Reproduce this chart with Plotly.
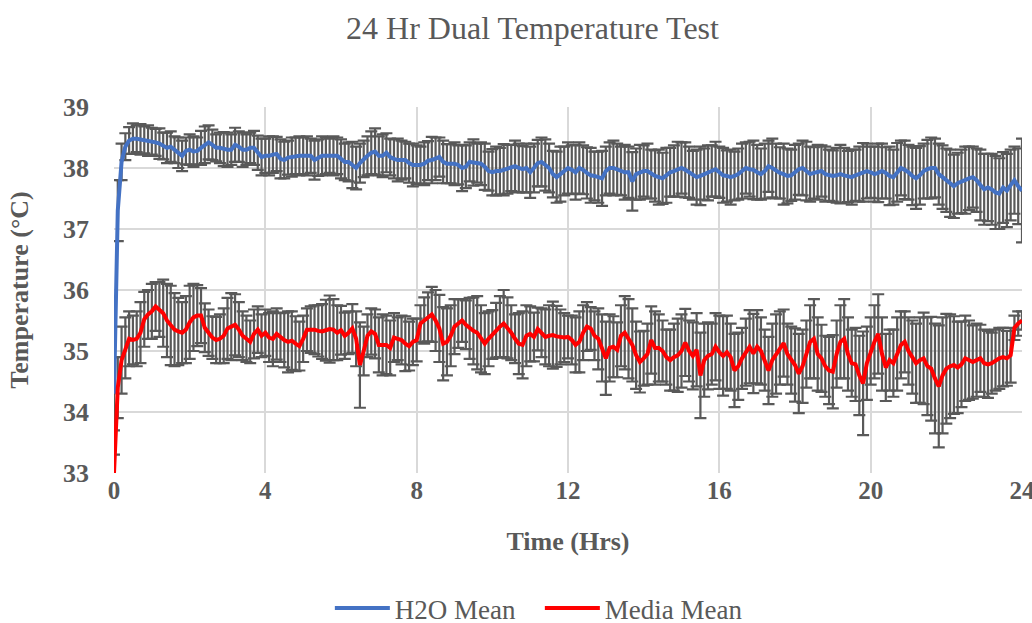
import plotly.graph_objects as go

# time grid (hours), sampled every 0.1 h
time_hrs = [round(i * 0.1, 1) for i in range(241)]

h2o_mean = [
    34.3, 37.3, 38.1, 38.35, 38.45, 38.48, 38.48, 38.47, 38.46, 38.45,
    38.44, 38.42, 38.4, 38.36, 38.33, 38.35, 38.3, 38.25, 38.2, 38.28,
    38.3, 38.27, 38.28, 38.33, 38.38, 38.42, 38.38, 38.33, 38.33, 38.31,
    38.3, 38.3, 38.38, 38.35, 38.3, 38.3, 38.33, 38.33, 38.25, 38.18,
    38.2, 38.2, 38.22, 38.23, 38.15, 38.13, 38.17, 38.18, 38.2, 38.2,
    38.2, 38.2, 38.2, 38.13, 38.17, 38.2, 38.2, 38.2, 38.2, 38.2,
    38.15, 38.1, 38.1, 38.05, 38.0, 38.08, 38.15, 38.2, 38.25, 38.27,
    38.2, 38.2, 38.25, 38.18, 38.15, 38.13, 38.13, 38.13, 38.08, 38.05,
    38.05, 38.05, 38.07, 38.12, 38.13, 38.15, 38.18, 38.1, 38.07, 38.07,
    38.07, 38.05, 38.0, 38.02, 38.1, 38.09, 38.08, 38.07, 38.02, 37.95,
    37.93, 37.95, 37.95, 37.97, 37.98, 38.0, 38.03, 38.0, 37.98, 38.0,
    37.93, 38.0, 38.08, 38.1, 38.05, 38.0, 37.9, 37.85, 37.9, 37.95,
    38.0, 37.97, 37.93, 38.0, 37.97, 37.92, 37.88, 37.87, 37.85, 37.83,
    37.95, 38.0, 38.0, 37.98, 37.95, 37.93, 37.93, 37.78, 37.9, 37.93,
    37.95, 37.95, 37.9, 37.87, 37.85, 37.83, 37.88, 37.93, 37.95, 37.98,
    38.0, 37.97, 37.93, 37.88, 37.85, 37.87, 37.9, 37.92, 37.95, 37.98,
    37.93, 37.88, 37.87, 37.85, 37.87, 37.9, 37.95, 38.0, 37.98, 37.97,
    37.93, 37.9, 37.95, 38.03, 38.0, 37.95, 37.92, 37.9, 37.87, 37.88,
    37.93, 37.98, 38.0, 37.95, 37.9, 37.92, 37.93, 37.95, 37.9, 37.88,
    37.87, 37.88, 37.9, 37.88, 37.86, 37.85, 37.88, 37.9, 37.93, 37.95,
    37.93, 37.9, 37.92, 37.95, 37.92, 37.87, 37.85, 37.93, 38.0, 37.97,
    37.93, 37.87, 37.83, 37.88, 37.95, 37.98, 38.0, 38.0, 37.9, 37.85,
    37.8, 37.75, 37.7, 37.75, 37.78, 37.8, 37.83, 37.85, 37.8, 37.72,
    37.65, 37.68, 37.65, 37.6, 37.58, 37.68, 37.63, 37.72, 37.8, 37.7,
    37.63,
]

h2o_err = [
    0.6, 0.5, 0.3, 0.22, 0.22, 0.25, 0.22, 0.25, 0.22, 0.25,
    0.22, 0.22, 0.25, 0.22, 0.25, 0.25, 0.22, 0.25, 0.25, 0.22,
    0.25, 0.25, 0.22, 0.28, 0.3, 0.28, 0.25, 0.22, 0.25, 0.28,
    0.28, 0.25, 0.28, 0.25, 0.28, 0.25, 0.25, 0.28, 0.28, 0.3,
    0.28, 0.32, 0.3, 0.28, 0.32, 0.3, 0.28, 0.32, 0.3, 0.32,
    0.3, 0.32, 0.28, 0.32, 0.3, 0.32, 0.3, 0.28, 0.32, 0.3,
    0.32, 0.3, 0.32, 0.38, 0.35, 0.32, 0.3, 0.32, 0.35, 0.38,
    0.32, 0.35, 0.32, 0.3, 0.32, 0.35, 0.32, 0.3, 0.32, 0.35,
    0.32, 0.3, 0.35, 0.32, 0.38, 0.35, 0.32, 0.35, 0.32, 0.32,
    0.35, 0.32, 0.38, 0.35, 0.32, 0.38, 0.32, 0.35, 0.38, 0.32,
    0.38, 0.4, 0.38, 0.42, 0.4, 0.38, 0.42, 0.4, 0.38, 0.4,
    0.42, 0.4, 0.38, 0.4, 0.42, 0.4, 0.38, 0.42, 0.45, 0.4,
    0.42, 0.4, 0.45, 0.42, 0.4, 0.42, 0.45, 0.4, 0.42, 0.45,
    0.4, 0.42, 0.45, 0.42, 0.4, 0.45, 0.42, 0.48, 0.42, 0.45,
    0.42, 0.45, 0.4, 0.42, 0.45, 0.42, 0.45, 0.4, 0.42, 0.45,
    0.42, 0.45, 0.42, 0.4, 0.45, 0.48, 0.42, 0.45, 0.42, 0.45,
    0.42, 0.45, 0.42, 0.45, 0.4, 0.42, 0.45, 0.42, 0.45, 0.48,
    0.45, 0.42, 0.45, 0.42, 0.48, 0.45, 0.42, 0.5, 0.45, 0.42,
    0.45, 0.42, 0.45, 0.48, 0.45, 0.42, 0.45, 0.42, 0.45, 0.42,
    0.42, 0.45, 0.48, 0.45, 0.42, 0.45, 0.42, 0.45, 0.48, 0.45,
    0.42, 0.45, 0.48, 0.45, 0.42, 0.48, 0.45, 0.48, 0.45, 0.48,
    0.45, 0.48, 0.5, 0.48, 0.45, 0.48, 0.5, 0.48, 0.5, 0.52,
    0.52, 0.55, 0.52, 0.5, 0.52, 0.55, 0.52, 0.5, 0.52, 0.58,
    0.58, 0.55, 0.58, 0.6, 0.58, 0.58, 0.6, 0.58, 0.55, 0.62,
    0.85,
]

media_mean = [
    33.0, 34.4, 34.85, 35.05, 35.2, 35.18, 35.2, 35.3, 35.52, 35.6,
    35.65, 35.73, 35.68, 35.62, 35.5, 35.42, 35.35, 35.32, 35.3, 35.35,
    35.47, 35.55, 35.58, 35.58, 35.38, 35.3, 35.22, 35.18, 35.2, 35.25,
    35.37, 35.4, 35.43, 35.35, 35.25, 35.2, 35.15, 35.28, 35.35, 35.25,
    35.3, 35.22, 35.2, 35.28, 35.22, 35.18, 35.15, 35.17, 35.12, 35.08,
    35.2, 35.35, 35.35, 35.35, 35.33, 35.32, 35.34, 35.36, 35.35, 35.3,
    35.34, 35.25, 35.3, 35.37, 35.2, 34.77, 35.0, 35.25, 35.32, 35.28,
    35.1, 35.1, 35.1, 35.05, 35.22, 35.2, 35.18, 35.12, 35.08, 35.15,
    35.18, 35.45, 35.5, 35.56, 35.6, 35.5, 35.37, 35.12, 35.15, 35.25,
    35.4, 35.45, 35.5, 35.43, 35.37, 35.33, 35.3, 35.2, 35.12, 35.2,
    35.27, 35.34, 35.4, 35.45, 35.38, 35.3, 35.2, 35.12, 35.1, 35.25,
    35.28, 35.23, 35.36, 35.3, 35.23, 35.25, 35.26, 35.24, 35.23, 35.22,
    35.23, 35.18, 35.1, 35.15, 35.3, 35.4, 35.37, 35.25, 35.2, 35.05,
    34.88, 35.05, 35.07, 35.02, 35.25, 35.3, 35.2, 35.1, 34.93, 34.82,
    34.88, 34.95, 35.18, 35.05, 35.05, 35.0, 34.9, 34.85, 34.9, 34.93,
    35.0, 35.14, 35.0, 34.92, 35.02, 34.6, 34.85, 34.92, 34.95, 35.07,
    34.98, 34.92, 34.98, 34.9, 34.68, 34.75, 34.88, 34.98, 35.07, 34.96,
    35.07, 35.0, 34.85, 34.68, 34.85, 34.95, 35.05, 35.13, 34.95, 34.85,
    34.77, 34.63, 34.75, 34.95, 35.15, 35.2, 34.95, 34.88, 34.75, 34.68,
    34.66, 34.95, 35.15, 35.2, 34.95, 34.8, 34.78, 34.6, 34.47, 34.8,
    35.0, 35.15, 35.28, 34.95, 34.73, 34.85, 34.8, 34.95, 35.1, 35.15,
    35.0, 34.9, 34.8, 34.85, 34.88, 34.75, 34.71, 34.55, 34.42, 34.6,
    34.71, 34.75, 34.77, 34.73, 34.78, 34.88, 34.85, 34.82, 34.85, 34.88,
    34.8, 34.78, 34.8, 34.85, 34.88, 34.9, 34.88, 34.93, 35.38, 35.45,
    35.5,
]

media_err = [
    0.3, 0.5, 0.55, 0.5, 0.45, 0.4, 0.45, 0.5, 0.45, 0.4,
    0.45, 0.4, 0.45, 0.55, 0.6, 0.65, 0.6, 0.55, 0.5, 0.55,
    0.6, 0.55, 0.5, 0.45, 0.4, 0.38, 0.35, 0.38, 0.4, 0.45,
    0.5, 0.55, 0.5, 0.45, 0.4, 0.38, 0.35, 0.4, 0.38, 0.35,
    0.38, 0.4, 0.45, 0.42, 0.4, 0.45, 0.5, 0.48, 0.45, 0.4,
    0.38, 0.35, 0.38, 0.4, 0.42, 0.45, 0.5, 0.55, 0.5, 0.45,
    0.4, 0.38, 0.35, 0.4, 0.45, 0.7, 0.4, 0.35, 0.38, 0.4,
    0.45, 0.5, 0.48, 0.45, 0.4, 0.35, 0.4, 0.45, 0.4, 0.38,
    0.35, 0.3, 0.38, 0.4, 0.45, 0.5, 0.55, 0.6, 0.55, 0.5,
    0.45, 0.4, 0.35, 0.4, 0.5, 0.55, 0.6, 0.55, 0.5, 0.45,
    0.4, 0.45, 0.5, 0.55, 0.5, 0.45, 0.4, 0.5, 0.55, 0.5,
    0.45, 0.4, 0.35, 0.4, 0.45, 0.5, 0.55, 0.5, 0.45, 0.4,
    0.35, 0.4, 0.45, 0.5, 0.45, 0.4, 0.35, 0.4, 0.5, 0.55,
    0.6, 0.55, 0.5, 0.45, 0.5, 0.6, 0.65, 0.6, 0.55, 0.5,
    0.45, 0.5, 0.55, 0.6, 0.55, 0.5, 0.45, 0.5, 0.55, 0.6,
    0.6, 0.55, 0.5, 0.55, 0.6, 0.7, 0.6, 0.55, 0.5, 0.55,
    0.6, 0.65, 0.6, 0.55, 0.6, 0.55, 0.5, 0.55, 0.6, 0.65,
    0.6, 0.55, 0.5, 0.55, 0.6, 0.65, 0.6, 0.55, 0.5, 0.55,
    0.6, 0.65, 0.6, 0.55, 0.6, 0.65, 0.6, 0.55, 0.5, 0.55,
    0.6, 0.55, 0.6, 0.65, 0.6, 0.55, 0.6, 0.65, 0.85, 0.6,
    0.55, 0.6, 0.65, 0.6, 0.55, 0.5, 0.55, 0.6, 0.55, 0.5,
    0.55, 0.6, 0.65, 0.7, 0.75, 0.8, 0.85, 0.9, 1.0, 0.95,
    0.9, 0.85, 0.8, 0.75, 0.7, 0.7, 0.65, 0.6, 0.6, 0.55,
    0.55, 0.55, 0.5, 0.5, 0.5, 0.48, 0.45, 0.45, 0.2, 0.2,
    0.15,
]

x_ticks = [0, 4, 8, 12, 16, 20, 24]
y_ticks = [33, 34, 35, 36, 37, 38, 39]

GRAY = "#595959"
GRID = "#D9D9D9"
SERIF = "Liberation Serif, Times New Roman, serif"

fig = go.Figure()

# error bars (drawn underneath the mean lines)
for mean, err in ((h2o_mean, h2o_err), (media_mean, media_err)):
    fig.add_trace(go.Scatter(
        x=time_hrs, y=mean, mode="markers",
        marker=dict(size=1, color="rgba(0,0,0,0)"),
        error_y=dict(type="data", array=err, visible=True,
                     color=GRAY, thickness=2.2, width=6),
        showlegend=False, hoverinfo="skip",
    ))

fig.add_trace(go.Scatter(
    x=time_hrs, y=h2o_mean, mode="lines", name="H2O Mean",
    line=dict(color="#4472C4", width=4),
))
fig.add_trace(go.Scatter(
    x=time_hrs, y=media_mean, mode="lines", name="Media Mean",
    line=dict(color="#FF0000", width=4),
))

fig.update_layout(
    width=1032, height=623,
    margin=dict(l=114, r=10, t=107, b=150, autoexpand=False),
    paper_bgcolor="white", plot_bgcolor="white",
    title=dict(text="24 Hr Dual Temperature Test", x=0.516, xanchor="center",
               y=0.955, yanchor="middle",
               font=dict(family=SERIF, size=32, color=GRAY)),
    xaxis=dict(range=[0, 24], tickvals=x_ticks, showgrid=True,
               gridcolor=GRID, gridwidth=2, zeroline=False,
               showline=False, ticklabeloverflow="allow",
               tickfont=dict(family=SERIF, size=25, color=GRAY, weight="bold"),
               title=dict(text="Time (Hrs)", standoff=28,
                          font=dict(family=SERIF, size=26, color=GRAY,
                                    weight="bold"))),
    yaxis=dict(range=[33, 39], tickvals=y_ticks, showgrid=True,
               gridcolor=GRID, gridwidth=2, zeroline=False,
               showline=False,
               tickfont=dict(family=SERIF, size=26, color=GRAY, weight="bold"),
               ticklabelstandoff=24,
               title=dict(text="Temperature (°C)", standoff=26,
                          font=dict(family=SERIF, size=26, color=GRAY,
                                    weight="bold"))),
    legend=dict(orientation="h", x=0.469, xanchor="center",
                y=-0.37, yanchor="middle",
                font=dict(family=SERIF, size=27, color=GRAY),
                itemwidth=55, tracegroupgap=0,
                entrywidth=140, entrywidthmode="pixels"),
    showlegend=True,
)

fig.write_html("out.html")
